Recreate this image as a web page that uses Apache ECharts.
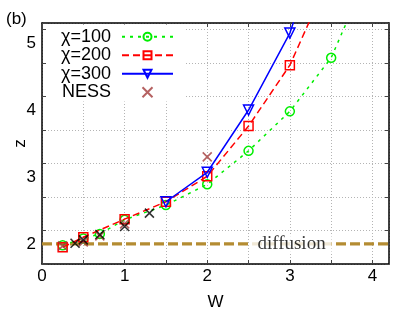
<!DOCTYPE html>
<html><head><meta charset="utf-8">
<script src="https://cdn.jsdelivr.net/npm/echarts@6/dist/echarts.min.js"></script>
<style>html,body{margin:0;padding:0;background:#fff}#c{width:399px;height:316px}</style>
</head><body><div id="c"></div>
<script>
// ---- data ----
const W100 = [0.25, 0.5, 0.7, 1, 1.5, 2, 2.5, 3, 3.5, 4];
const Z100 = [1.98, 2.08, 2.15, 2.36, 2.58, 2.89, 3.39, 3.98, 4.78, 6.2];
const W200 = [0.25, 0.5, 1, 1.5, 2, 2.5, 3, 3.5];
const Z200 = [1.95, 2.10, 2.37, 2.63, 3.01, 3.76, 4.67, 6.05];
const W300 = [1.5, 2, 2.5, 3, 3.5];
const Z300 = [2.63, 3.07, 4.0, 5.15, 7.0];
const W_NESS = [0.25, 0.5, 0.7, 1.0, 2.0];
const Z_NESS = [1.97, 2.03, 2.12, 2.30, 3.30];
const W_BLACK = [0.4, 0.5, 0.7, 1.0, 1.3];
const Z_BLACK = [2.01, 2.06, 2.14, 2.26, 2.46];
const DIFFUSION_Z = 2;
const DIFFUSION_LABEL = 'diffusion';
const DIFFUSION_LABEL_W = 3.02;
const X_LABELS = [0, 1, 2, 3, 4];
const Y_LABELS = [2, 3, 4, 5];
const TICK_STEP = 0.5;
const Y_TICK_START = 2;
const LEGEND_NAMES = ['\u03c7=100', '\u03c7=200', '\u03c7=300', 'NESS'];

const pairs = (xs, ys) => xs.map((x, i) => [x, ys[i]]);
const FONT = 'Liberation Sans';
const CROSS = 'path://M0,0L10,10M10,0L0,10';
const GRID_STYLE = {color: '#b4b4b4', type: [1, 2], width: 1};

const chart = echarts.init(document.getElementById('c'), null, {renderer: 'canvas'});
const axisLine = {show: true, onZero: false, lineStyle: {color: '#000', width: 1.5}};
const tick = {show: true, inside: true, length: 4, lineStyle: {color: '#444', width: 1}};

const xBase = {type: 'value', min: 0, max: 4.2, interval: TICK_STEP, axisLine: axisLine, axisTick: tick};
const yBase = {type: 'value', min: 1.7, max: 5.3, interval: TICK_STEP, startValue: Y_TICK_START, axisLine: axisLine, axisTick: tick};

chart.setOption({
  animation: false,
  backgroundColor: '#fff',
  grid: {left: 42, right: 10, top: 23, bottom: 52, containLabel: false, outerBoundsMode: 'none'},
  title: {text: '(b)', left: 1, top: 6, textStyle: {fontFamily: FONT, fontSize: 17, fontWeight: 'normal', color: '#000'}},
  legend: {
    data: LEGEND_NAMES,
    orient: 'vertical', left: 47, top: 24.5, align: 'right',
    backgroundColor: '#fff', padding: [3, 12, 0, 4], z: 10,
    itemWidth: 51, itemHeight: 10, itemGap: 0,
    textStyle: {fontFamily: FONT, fontSize: 18, color: '#000', width: 60, align: 'right', padding: [0, 6, 0, 0], lineHeight: 18.5}
  },
  xAxis: [Object.assign({}, xBase, {
    position: 'bottom',
    name: 'W', nameLocation: 'middle', nameGap: 30, nameMoveOverlap: false,
    nameTextStyle: {fontFamily: FONT, fontSize: 17, color: '#000'},
    axisLabel: {customValues: X_LABELS, fontFamily: FONT, fontSize: 17, color: '#000', margin: 4},
    splitLine: {show: true, lineStyle: GRID_STYLE}
  }), Object.assign({}, xBase, {
    position: 'top', axisLabel: {show: false}, splitLine: {show: false}
  })],
  yAxis: [Object.assign({}, yBase, {
    position: 'left',
    name: 'z', nameLocation: 'middle', nameGap: 13, nameRotate: 90, nameMoveOverlap: false,
    nameTextStyle: {fontFamily: FONT, fontSize: 17, color: '#000'},
    axisLabel: {customValues: Y_LABELS, fontFamily: FONT, fontSize: 17, color: '#000', margin: 6},
    splitLine: {show: true, lineStyle: GRID_STYLE}
  }), Object.assign({}, yBase, {
    position: 'right', axisLabel: {show: false}, splitLine: {show: false}
  })],
  series: [
    {
      name: 'diffusion-line', type: 'line', data: [[0, DIFFUSION_Z], [4.2, DIFFUSION_Z]],
      showSymbol: false, symbol: 'none', silent: true, z: 1,
      lineStyle: {color: '#b48c32', width: 3.2, type: [10, 4]}
    },
    {
      name: 'diffusion-label', type: 'scatter', data: [[DIFFUSION_LABEL_W, DIFFUSION_Z]],
      symbolSize: 0, silent: true, z: 2,
      label: {show: true, position: 'inside', formatter: DIFFUSION_LABEL,
        fontFamily: 'Liberation Serif', fontSize: 19, color: '#000',
        backgroundColor: '#fff', padding: [0, 6, 0, 6]}
    },
    {
      name: LEGEND_NAMES[0], type: 'line', data: pairs(W100, Z100), clip: true, z: 3,
      symbol: 'circle', symbolSize: 9,
      itemStyle: {color: 'rgba(0,0,0,0)', borderColor: '#00ee00', borderWidth: 1.5},
      lineStyle: {color: '#00ee00', width: 1.5, type: [3, 5]}
    },
    {
      name: LEGEND_NAMES[1], type: 'line', data: pairs(W200, Z200), clip: true, z: 4,
      symbol: 'rect', symbolSize: 9,
      itemStyle: {color: 'rgba(0,0,0,0)', borderColor: '#ff0000', borderWidth: 1.5},
      lineStyle: {color: '#ff0000', width: 1.5, type: [7, 4]}
    },
    {
      name: LEGEND_NAMES[2], type: 'line', data: pairs(W300, Z300), clip: true, z: 5,
      symbol: 'triangle', symbolRotate: 180, symbolSize: 10,
      itemStyle: {color: 'rgba(0,0,0,0)', borderColor: '#0000ff', borderWidth: 1.5},
      lineStyle: {color: '#0000ff', width: 1.5, type: 'solid'}
    },
    {
      name: LEGEND_NAMES[3], type: 'scatter', data: pairs(W_NESS, Z_NESS), z: 6,
      symbol: CROSS, symbolSize: 9,
      itemStyle: {color: 'rgba(0,0,0,0)', borderColor: '#a33a3a', borderWidth: 1.6}
    },
    {
      name: 'NESS-black', type: 'scatter', data: pairs(W_BLACK, Z_BLACK), z: 7,
      symbol: CROSS, symbolSize: 9,
      itemStyle: {color: 'rgba(0,0,0,0)', borderColor: '#000', borderWidth: 1.6}
    }
  ]
});
</script></body></html>
